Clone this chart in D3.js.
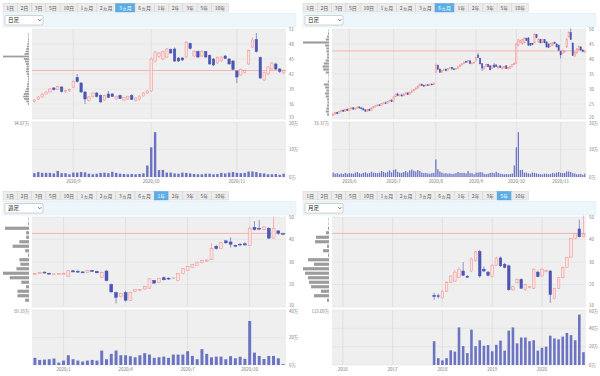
<!DOCTYPE html>
<html>
<head>
<meta charset="utf-8">
<script src="https://cdn.jsdelivr.net/npm/d3@7/dist/d3.min.js"></script>
<style>
body { margin: 0; background: #fff; }
</style>
</head>
<body>
<div id="chart"></div>
<script>
var width = 600, height = 376;

// period buttons
var buttonLabels = ["1日","2日","3日","5日","10日","1ヵ月","2ヵ月","3ヵ月","6ヵ月","1年","2年","3年","5年","10年"];

// daily candles [open, high, low, close], 2020/5/20 .. 2020/11/18
var dailyOHLC = [
  [21.2,21.9,20.9,21.7],[21.7,22.3,21.4,22.1],[22.1,22.4,21.6,21.8],[21.8,22.7,21.7,22.5],
  [22.5,23.1,22.2,22.9],[22.9,23.2,22.4,22.6],[22.6,23.3,22.5,23.1],[23.1,23.5,22.7,22.9],
  [22.9,23.6,22.8,23.4],[23.4,23.9,23.1,23.7],[23.7,24.0,23.2,23.3],[23.3,23.8,23.0,23.6],
  [23.6,24.2,23.4,24.0],[24.0,24.3,23.5,23.7],[23.7,23.9,23.2,23.4],[23.4,23.8,22.9,23.0],
  [23.0,23.3,22.4,22.6],[22.6,23.4,22.5,23.2],[23.2,23.5,22.6,22.8],[22.8,23.9,22.7,23.7],
  [23.7,24.3,23.5,24.1],[24.1,24.6,23.8,24.4],[24.4,24.9,24.2,24.7],[24.7,25.0,24.3,24.5],
  [24.5,25.3,24.4,25.1],[25.1,25.6,24.9,25.4],[25.4,25.8,25.0,25.2],[25.2,26.0,25.1,25.8],
  [25.8,26.5,25.6,26.3],[26.3,26.6,25.7,25.9],
  [25.9,27.6,25.8,27.4],[27.4,28.6,27.2,28.3],[28.3,28.8,27.6,27.8],[27.8,28.2,27.4,28.0],
  [28.0,28.4,27.5,27.7],[27.7,28.5,27.6,28.3],[28.3,28.9,28.1,28.7],[28.7,28.8,28.0,28.2],
  [28.2,29.1,28.1,28.9],[28.9,29.6,28.8,29.4],[29.4,30.0,29.2,29.8],[29.8,30.5,29.6,30.3],
  [30.3,31.2,30.1,31.0],[31.0,31.9,30.8,31.6],[31.6,31.8,31.0,31.2],[31.2,31.5,30.7,31.0],
  [31.0,31.6,30.9,31.4],[31.4,31.7,31.0,31.3],[31.3,31.8,31.1,31.6],[31.6,32.0,31.4,31.5],
  [31.5,32.2,31.3,32.0],
  [35.6,38.6,35.3,37.9],[37.9,38.2,36.4,36.6],[36.6,36.9,35.4,35.6],[35.6,36.4,35.3,36.2],
  [36.2,36.8,36.0,36.6],[36.6,36.9,35.9,36.1],[36.1,36.9,36.0,36.8],[36.8,37.4,36.6,37.2],
  [37.2,37.4,36.5,36.7],[36.7,37.1,36.3,36.5],
  [36.5,37.0,36.3,36.8],[36.9,37.6,36.8,37.4],[37.4,38.2,37.3,38.0],[38.0,38.6,37.9,38.4],
  [38.4,39.2,38.3,39.0],[39.2,39.4,38.7,38.9],[38.9,39.7,38.8,39.5],[39.4,39.6,38.3,38.5],
  [38.5,38.9,38.2,38.7],[38.6,39.1,38.4,38.9],
  [39.3,40.7,39.2,40.5],[41.3,42.0,40.3,40.5],[40.2,40.4,38.2,38.4],[38.4,38.6,36.0,37.0],
  [36.7,37.6,36.5,37.4],[37.5,38.3,37.3,38.2],[38.2,38.4,37.3,37.5],[37.7,37.9,36.3,36.4],
  [36.8,37.9,36.6,37.7],[38.0,38.6,37.2,37.3],[38.0,38.2,37.4,37.5],[37.0,37.7,36.8,37.5],
  [37.7,37.9,37.0,37.1],[36.8,37.4,36.5,37.3],[37.0,37.7,36.8,37.5],[37.7,38.0,36.8,36.9],
  [36.7,37.3,36.5,37.2],[36.9,37.7,36.7,37.6],[37.6,38.3,37.5,38.2],[38.2,38.8,38.0,38.6],
  [38.6,45.4,38.4,45.0],[44.6,46.6,44.3,46.4],[45.5,46.4,45.2,46.2],[45.0,46.7,44.8,46.5],
  [45.4,47.2,45.2,47.0],[46.9,47.1,46.0,46.2],[47.0,47.3,44.4,44.6],[45.2,45.4,44.4,44.6],
  [45.2,45.4,44.6,44.8],[45.4,48.6,45.2,48.3],[48.1,48.3,46.9,47.1],[45.6,46.8,45.4,46.5],
  [46.5,46.7,45.2,45.4],[45.6,46.7,45.4,46.5],[46.5,46.6,45.2,45.4],[45.7,45.9,43.9,44.0],
  [45.0,45.2,43.6,43.8],[44.2,45.5,44.0,45.3],[44.6,45.6,44.4,45.4],[45.6,45.8,45.0,45.1],
  [45.0,45.2,43.9,44.0],[44.6,44.8,42.8,42.9],
  [42.6,42.8,40.2,41.4],[41.8,43.1,41.6,42.9],[42.3,42.9,42.1,42.7],[44.0,46.9,43.8,46.7],
  [47.4,49.3,47.2,48.8],[48.9,50.2,46.3,46.5],[45.3,45.5,41.0,41.2],[40.8,42.5,40.6,42.3],
  [42.0,43.6,41.8,43.4],[43.0,44.4,42.8,44.2],[44.0,44.3,42.8,43.0],[43.0,43.2,42.2,42.5],
  [42.3,42.9,42.0,42.7]
];
// daily volume (万株)
var dailyVol = [
  1.6,1.2,1.4,1.0,1.3,1.1,1.5,1.2,
  1.4,1.3,1.2,1.6,1.8,1.4,1.2,1.5,1.7,1.3,1.4,1.9,1.6,1.5,1.4,1.6,2.2,1.8,1.5,1.9,2.4,1.7,
  2.6,2.8,1.9,1.6,1.5,1.8,2.2,1.7,2.4,2.7,2.3,2.0,2.5,2.2,1.6,1.4,1.5,1.3,1.2,1.4,1.5,
  6.4,2.8,2.0,1.6,1.3,1.4,1.2,1.3,1.1,1.2,1.4,1.8,1.5,1.5,1.5,1.3,2.2,1.4,1.4,1.0,
  1.6,1.6,1.8,1.7,1.2,1.0,1.2,1.5,1.6,1.4,1.9,1.5,1.2,1.1,1.0,1.1,1.0,1.1,1.3,4.2,
  10.8,16.3,2.5,2.6,1.6,1.6,1.3,1.2,1.6,1.5,1.3,1.1,1.0,1.0,1.2,1.2,1.0,1.1,1.5,1.3,1.6,1.8,
  1.5,1.4,1.5,2.0,2.0,1.8,1.4,1.3,1.0,1.0,1.1,0.8,1.2
];
var daily6mTickLabels = ["2020/6","2020/7","2020/8","2020/9","2020/10","2020/11"];
var daily6mTickIdx = [8,30,51,71,91,113];
var daily3mStart = 61;
var daily3mTickLabels = ["2020/9","2020/10","2020/11"];
var daily3mTickIdx = [10,30,52];

// weekly candles, 2019/11/18 .. 2020/11/16
var weeklyOHLC = [
  [24.4,25.2,24.2,25.0],[25.0,25.6,24.7,25.3],[25.5,25.8,24.9,25.1],[25.0,25.3,24.4,24.6],
  [24.5,24.9,24.2,24.7],[24.6,25.0,24.3,24.8],[24.6,25.3,24.4,25.0],[23.6,26.4,23.4,26.1],
  [26.1,26.5,25.4,25.6],[25.8,26.6,25.3,25.5],[25.6,25.9,25.0,25.2],[25.4,26.6,25.2,26.3],
  [26.3,26.5,25.6,25.8],[25.8,26.1,25.0,25.2],[23.2,25.8,22.8,25.4],[26.0,26.3,21.4,21.7],
  [20.0,20.4,16.4,16.7],[16.4,16.8,11.6,14.3],[14.8,16.4,14.2,16.0],[16.4,17.2,12.4,13.0],
  [13.0,16.8,12.8,16.5],[16.9,18.0,16.6,17.8],[17.3,18.0,17.0,17.7],[18.0,19.5,17.8,19.2],
  [18.4,22.8,18.0,22.5],[21.8,22.0,20.4,20.6],[20.9,22.9,20.6,22.6],[23.0,23.6,21.8,22.1],
  [22.8,23.2,22.1,22.4],[22.6,23.2,22.4,22.9],[21.7,25.0,21.5,24.8],[24.8,27.2,24.5,27.0],
  [26.2,28.2,26.0,28.0],[27.7,29.1,27.5,28.9],[28.4,30.1,28.2,29.9],[29.9,31.0,29.4,30.6],
  [30.4,31.2,30.0,30.9],[31.0,38.5,30.8,36.0],[37.0,37.6,35.4,36.0],[36.0,38.9,35.8,38.5],
  [39.4,39.8,38.2,38.5],[38.9,41.0,36.4,37.9],[37.4,37.8,36.6,37.0],[37.9,38.4,37.0,37.6],
  [38.1,38.8,37.2,37.6],[37.4,45.8,37.2,45.0],[45.4,48.2,44.0,44.4],[45.0,48.6,44.2,44.6],
  [44.5,45.8,44.2,45.6],[45.0,45.4,40.3,40.6],[40.6,50.2,40.4,45.0],[43.8,44.2,42.0,42.8],
  [42.6,43.0,42.1,42.4]
];
var weeklyVol = [
  5.2,3.7,3.9,4.2,4.7,1.7,3.2,7.1,4.2,3.2,2.5,3.2,3.7,3.2,10.5,4.2,8.1,10.5,7.1,7.1,
  6.4,5.6,7.1,8.6,7.6,5.2,5.6,6.1,5.2,7.6,7.6,7.6,10.0,6.6,4.2,11.5,8.1,5.6,6.1,6.1,
  4.2,6.4,4.9,6.0,4.5,32.0,9.0,6.6,4.4,6.6,6.6,4.9,0.7
];
var weeklyTickLabels = ["2020/1","2020/4","2020/7","2020/10"];
var weeklyTickIdx = [6,19,32,45];

// monthly candles, 2017/11 .. 2020/11 on a 2015/11 .. 2020/11 axis
var monthlySlots = 61, monthlyStart = 24;
var monthlyOHLC = [
  [15.2,16.4,13.2,14.6],[15.0,16.0,13.8,14.8],[14.0,17.5,13.8,17.0],[17.0,21.5,16.8,21.0],
  [21.0,24.2,20.6,23.8],[21.5,26.5,21.2,25.5],[23.2,27.8,22.8,26.8],[26.0,30.0,23.8,24.1],
  [23.6,24.2,22.8,23.2],[26.0,32.0,25.6,31.4],[30.6,35.0,30.2,34.5],[34.7,35.4,23.0,23.8],
  [26.8,28.0,25.5,26.0],[25.5,26.0,23.6,24.1],[23.5,29.0,23.2,28.6],[28.6,32.3,28.2,31.8],
  [31.8,32.5,27.8,28.3],[29.0,29.6,27.2,27.6],[28.3,28.8,17.2,17.7],[17.6,19.4,17.2,19.0],
  [20.9,22.8,20.4,22.3],[22.3,22.8,18.0,18.3],[17.6,20.4,17.2,20.0],[18.6,19.4,18.2,19.0],
  [18.3,27.2,18.0,26.8],[25.5,26.2,23.2,23.5],[23.8,27.2,23.4,26.8],[26.0,26.8,25.4,26.2],
  [26.0,26.4,11.8,15.5],[13.8,18.6,13.4,18.3],[18.3,23.4,18.0,23.0],[23.0,27.9,22.8,27.6],
  [27.6,32.3,27.4,32.0],[32.2,40.8,32.0,40.5],[40.5,42.9,40.2,42.7],[44.7,48.8,41.0,41.2],
  [41.2,50.6,41.0,42.4]
];
var monthlyVol = [26,7.5,5,7.5,16,14.6,41,20.6,13,38.6,20.6,27,21,21.7,15,22,26.6,15.7,37.5,41,
  23.6,30,30,26,27,15.7,18.7,20,32,29,28,31,35,32.6,27,55,14];
var monthlyTickLabels = ["2016","2017","2018","2019","2020"];
var monthlyTickIdx = [2,14,26,38,50];

// price-volume profiles
var prof3mPrice = [50,49.5,49,48.5,48,47.5,47,46.5,46,45.5,45,44.5,44,43.5,43,42.5,42,41.5,41,40.5,40,39.5,39,38.5,38,37.5,37,36.5,36];
var prof3mVol = [0.4,0.4,0.6,0.8,1.0,1.4,1.8,2.2,3.0,17.0,3.4,2.6,2.0,1.6,1.8,2.0,1.4,1.0,0.6,0.8,1.2,1.4,1.8,2.6,3.4,3.8,3.2,1.8,0.8];
var prof6mPrice = [49.5,48.5,47.5,46.5,45.5,44.5,43.5,42.5,41.5,40.5,39.5,38.5,37.5,36.5,35.5,34.5,33.5,32.5,31.5,30.5,29.5,28.5,27.5,26.5,25.5,24.5,23.5,22.5,21.5];
var prof6mVol = [0.4,0.8,1.5,2.5,20,3,2,2,1.5,1.5,2.5,4,5,4.5,2.5,0.5,0.3,1,4,3,2,3,2.5,1.5,1.2,1.5,2,2.5,1.5];
var prof1yPrice = [49,47,45,43,41,39,37,35,33,31,29,27,25,23,21,19,17,15,13];
var prof1yVol = [0.5,1,25,3,3,10,17,4,1,10,9,13,27,20,8,3,12,12,4];
var prof5yPrice = [49,47,45,43,41,39,37,35,33,31,29,27,25,23,21,19,17,15,13];
var prof5yVol = [0.5,0.5,1,3,13,14,2,6,1,21,15,26,24,21,20,18,8,15,2];

var refPrice = 42.7;

var svg = d3.select("#chart").append("svg")
    .attr("width", width)
    .attr("height", height)
    .style("font-family", "'Noto Sans CJK JP', 'Noto Sans', sans-serif");

function drawButtons(g, active) {
  var bx = 3;
  buttonLabels.forEach(function(lab, i) {
    var on = i === active;
    var r = g.append("rect")
        .attr("y", 3.5).attr("height", 8.5)
        .attr("fill", on ? "#5cade6" : "#ececec")
        .attr("stroke", on ? "#4a9bd6" : "#d2d2d2")
        .attr("stroke-width", 0.5);
    var t = g.append("text")
        .attr("y", 9.5)
        .attr("text-anchor", "middle")
        .attr("font-size", 5)
        .attr("fill", on ? "#fff" : "#555")
        .text(lab);
    var w = t.node().getComputedTextLength() + 6.5;
    r.attr("x", bx).attr("width", w);
    t.attr("x", bx + w / 2);
    bx += w;
  });
}

function drawPanel(c) {
  var g = svg.append("g").attr("transform", "translate(" + c.ox + "," + c.oy + ")");
  drawButtons(g, c.active);

  // selector strip
  g.append("rect").attr("x", 3).attr("y", 13.5).attr("width", 293).attr("height", 13.5)
      .attr("fill", "#edf6fb").attr("stroke", "#d8eaf4").attr("stroke-width", 0.5);
  g.append("rect").attr("x", 5).attr("y", 15.5).attr("width", 38).attr("height", 9.5).attr("rx", 1)
      .attr("fill", "#fff").attr("stroke", "#a8a8a8").attr("stroke-width", 0.5);
  g.append("text").attr("x", 8).attr("y", 22.3).attr("font-size", 5.5).attr("fill", "#222").text(c.sel);
  g.append("path").attr("d", "M38.2,19.2 l1.6,1.6 l1.6,-1.6")
      .attr("fill", "none").attr("stroke", "#333").attr("stroke-width", 0.7);

  var x0 = 32, x1 = 286, pTop = 29, pBot = 119, vTop = 122, vBot = 177;

  var x = d3.scaleBand().domain(d3.range(c.slots)).range([x0, x1])
      .paddingInner(0.38).paddingOuter(0.3);
  var cx = function(i) { return x(i) + x.bandwidth() / 2; };
  var y = d3.scaleLinear().domain(c.yDomain).range([pBot, pTop]);
  var v = d3.scaleLinear().domain([0, c.volMax]).range([vBot, vTop]);

  // plot backgrounds
  g.append("rect").attr("x", x0).attr("y", pTop).attr("width", x1 - x0).attr("height", pBot - pTop).attr("fill", "#efefef");
  g.append("rect").attr("x", x0).attr("y", vTop).attr("width", x1 - x0).attr("height", vBot - vTop).attr("fill", "#efefef");

  // grid
  g.selectAll(".hgrid").data(c.yTicks).enter().append("line")
      .attr("x1", x0).attr("x2", x1)
      .attr("y1", function(d) { return y(d); }).attr("y2", function(d) { return y(d); })
      .attr("stroke", "#dddddd").attr("stroke-width", 0.5);
  g.selectAll(".vhgrid").data(c.volTicks).enter().append("line")
      .attr("x1", x0).attr("x2", x1)
      .attr("y1", function(d) { return v(d); }).attr("y2", function(d) { return v(d); })
      .attr("stroke", "#dddddd").attr("stroke-width", 0.5);
  c.tickIdx.forEach(function(ti) {
    [[pTop, pBot], [vTop, vBot]].forEach(function(r) {
      g.append("line").attr("x1", cx(ti)).attr("x2", cx(ti)).attr("y1", r[0]).attr("y2", r[1])
          .attr("stroke", "#d2d2d2").attr("stroke-width", 0.5);
    });
  });

  // reference line
  g.append("line").attr("x1", x0).attr("x2", x1)
      .attr("y1", y(refPrice)).attr("y2", y(refPrice))
      .attr("stroke", "#f4a4a4").attr("stroke-width", 0.8);

  // candles
  var bw = x.bandwidth();
  var candles = g.selectAll(".candle").data(c.ohlc).enter().append("g");
  candles.append("line")
      .attr("x1", function(d, i) { return cx(i + c.start); })
      .attr("x2", function(d, i) { return cx(i + c.start); })
      .attr("y1", function(d) { return y(d[1]); })
      .attr("y2", function(d) { return y(d[2]); })
      .attr("stroke", function(d) { return d[3] >= d[0] ? "#f08c8c" : "#4b55b2"; })
      .attr("stroke-width", 0.6);
  candles.append("rect")
      .attr("x", function(d, i) { return x(i + c.start); })
      .attr("width", bw)
      .attr("y", function(d) { return y(Math.max(d[0], d[3])); })
      .attr("height", function(d) { return Math.max(0.7, Math.abs(y(d[0]) - y(d[3]))); })
      .attr("fill", function(d) { return d[3] >= d[0] ? "#fde3e3" : "#4b55b2"; })
      .attr("stroke", function(d) { return d[3] >= d[0] ? "#f08c8c" : "#4b55b2"; })
      .attr("stroke-width", 0.5);

  // volume bars
  g.selectAll(".vol").data(c.vol).enter().append("rect")
      .attr("x", function(d, i) { return x(i + c.start); })
      .attr("width", bw)
      .attr("y", function(d) { return v(d); })
      .attr("height", function(d) { return vBot - v(d); })
      .attr("fill", "#6b73c3");

  // price-volume profile on the left
  var pl = d3.scaleLinear().domain([0, d3.max(c.profVol)]).range([0, 26]);
  var ph = Math.abs(y(c.profPrice[0]) - y(c.profPrice[1])) * 0.7;
  g.selectAll(".prof").data(c.profVol).enter().append("rect")
      .attr("x", function(d) { return x0 - 3 - pl(d); })
      .attr("width", function(d) { return pl(d); })
      .attr("y", function(d, i) { return y(c.profPrice[i]) - ph / 2; })
      .attr("height", ph)
      .attr("fill", "#9c9c9c");

  // right axis labels (bottom price label sits above its line, top volume label below)
  var yMin = c.yDomain[0];
  g.selectAll(".ylab").data(c.yTicks).enter().append("text")
      .attr("x", x1 + 3)
      .attr("y", function(d) { return d === yMin ? y(d) - 0.4 : y(d) + 1.5; })
      .attr("font-size", 4.3).attr("fill", "#777")
      .text(function(d) { return d; });
  g.selectAll(".vlab").data(c.volTicks).enter().append("text")
      .attr("x", x1 + 3)
      .attr("y", function(d) { return d === c.volMax ? v(d) + 3.4 : v(d) + 1.5; })
      .attr("font-size", 4.3).attr("fill", "#777")
      .text(function(d) { return d + "万"; });
  g.append("text").attr("x", x0 - 3).attr("y", vTop + 2.5)
      .attr("text-anchor", "end").attr("font-size", 4.3).attr("fill", "#777")
      .text(c.volLabel);

  // x labels
  c.tickIdx.forEach(function(ti, k) {
    g.append("text").attr("x", cx(ti)).attr("y", vBot + 6)
        .attr("text-anchor", "middle").attr("font-size", 4.5).attr("fill", "#777")
        .text(c.tickLabels[k]);
  });
}

drawPanel({
  ox: 0, oy: 0, active: 7, sel: "日足",
  slots: dailyOHLC.length - daily3mStart, start: 0,
  ohlc: dailyOHLC.slice(daily3mStart), vol: dailyVol.slice(daily3mStart),
  yDomain: [33, 51], yTicks: [33, 36, 39, 42, 45, 48, 51],
  volMax: 20, volTicks: [0, 10, 20], volLabel: "34.07万",
  tickIdx: daily3mTickIdx, tickLabels: daily3mTickLabels,
  profPrice: prof3mPrice, profVol: prof3mVol
});

drawPanel({
  ox: 300, oy: 0, active: 8, sel: "日足",
  slots: dailyOHLC.length, start: 0,
  ohlc: dailyOHLC, vol: dailyVol,
  yDomain: [20, 50], yTicks: [20, 25, 30, 35, 40, 45, 50],
  volMax: 20, volTicks: [0, 10, 20], volLabel: "33.37万",
  tickIdx: daily6mTickIdx, tickLabels: daily6mTickLabels,
  profPrice: prof6mPrice, profVol: prof6mVol
});

drawPanel({
  ox: 0, oy: 188, active: 9, sel: "週足",
  slots: weeklyOHLC.length, start: 0,
  ohlc: weeklyOHLC, vol: weeklyVol,
  yDomain: [10, 50], yTicks: [10, 20, 30, 40, 50],
  volMax: 40, volTicks: [0, 20, 40], volLabel: "59.33万",
  tickIdx: weeklyTickIdx, tickLabels: weeklyTickLabels,
  profPrice: prof1yPrice, profVol: prof1yVol
});

drawPanel({
  ox: 300, oy: 188, active: 12, sel: "月足",
  slots: monthlySlots, start: monthlyStart,
  ohlc: monthlyOHLC, vol: monthlyVol,
  yDomain: [10, 50], yTicks: [10, 20, 30, 40, 50],
  volMax: 60, volTicks: [0, 20, 40, 60], volLabel: "113.09万",
  tickIdx: monthlyTickIdx, tickLabels: monthlyTickLabels,
  profPrice: prof5yPrice, profVol: prof5yVol
});
</script>
</body>
</html>
